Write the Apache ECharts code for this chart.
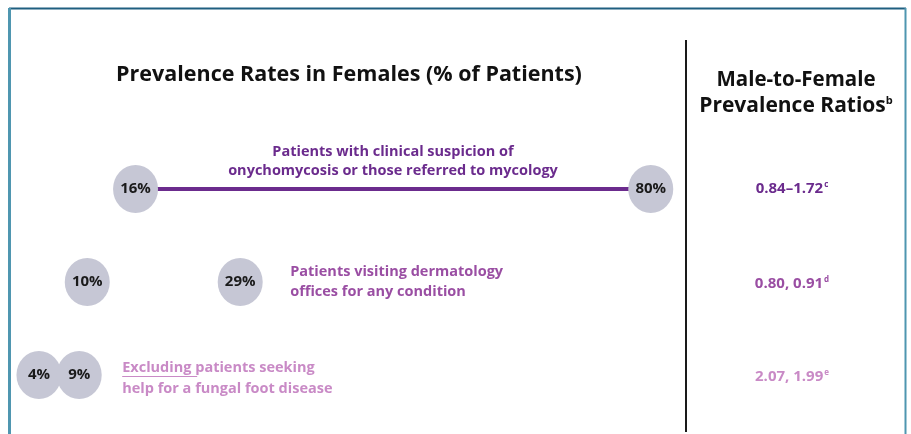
<!DOCTYPE html>
<html>
<head>
<meta charset="utf-8">
<script src="https://cdn.jsdelivr.net/npm/echarts@6/dist/echarts.min.js"></script>
<style>
html,body{margin:0;padding:0;background:#fff;}
#chart{width:911px;height:434px;}
</style>
</head>
<body>
<div id="chart"></div>
<script>
// ---- data ----
var rows = ['r1', 'r2', 'r3'];
var rowLabels = [
  'Patients with clinical suspicion of\nonychomycosis or those referred to mycology',
  'Patients visiting dermatology\noffices for any condition',
  'Excluding patients seeking\nhelp for a fungal foot disease'
];
var lowValues = [16, 10, 4];
var highValues = [80, 29, 9];
var ratioMain = ['0.84\u20131.72', '0.80, 0.91', '2.07, 1.99'];
var ratioNote = ['c', 'd', 'e'];
var rowColors = ['#6b2b8d', '#9a4ea3', '#c98ac6'];

var FONT = '"Open Sans", Lato, sans-serif';

var points = [];
rows.forEach(function (r, i) {
  points.push([lowValues[i], r]);
  points.push([highValues[i], r]);
});

var chart = echarts.init(document.getElementById('chart'), null, {renderer: 'canvas'});

var option = {
  backgroundColor: '#ffffff',
  animation: false,
  grid: {left: 6.75, right: 220, top: 142.5, height: 279},
  xAxis: {type: 'value', min: 0, max: 85, show: false},
  yAxis: {type: 'category', data: rows, inverse: true, show: false},
  series: [
    {
      type: 'line',
      data: [[lowValues[0], rows[0]], [highValues[0], rows[0]]],
      symbol: 'none',
      lineStyle: {color: rowColors[0], width: 4},
      z: 1
    },
    {
      type: 'scatter',
      data: points,
      symbol: 'circle',
      symbolSize: [45, 48],
      itemStyle: {color: '#c6c7d5', opacity: 1},
      label: {
        show: true,
        position: 'inside',
        formatter: function (p) { return p.value[0] + '%'; },
        color: '#1a1a1a',
        fontFamily: FONT,
        fontWeight: 'bold',
        fontSize: 15
      },
      z: 3
    }
  ],
  graphic: []
};
chart.setOption(option);

function px(x, r) { return chart.convertToPixel({gridIndex: 0}, [x, r]); }

var g = [];
// frame
g.push({type: 'line', shape: {x1: 9, y1: 8.5, x2: 906, y2: 8.5}, style: {stroke: '#1f5f80', lineWidth: 2}});
g.push({type: 'line', shape: {x1: 9.5, y1: 8, x2: 9.5, y2: 434}, style: {stroke: '#4f96b0', lineWidth: 3}});
g.push({type: 'line', shape: {x1: 905.5, y1: 8, x2: 905.5, y2: 434}, style: {stroke: '#4f96b0', lineWidth: 2}});
// divider
g.push({type: 'line', shape: {x1: 686, y1: 40, x2: 686, y2: 432}, style: {stroke: '#1a1a1a', lineWidth: 2}});
// titles
g.push({type: 'text', x: 349, y: 75, style: {text: 'Prevalence Rates in Females (% of Patients)', font: 'bold 21.5px ' + FONT, fill: '#111', textAlign: 'center', textVerticalAlign: 'middle'}});
g.push({type: 'text', x: 796, y: 80, style: {text: 'Male-to-Female', font: 'bold 20.5px ' + FONT, fill: '#111', textAlign: 'center', textVerticalAlign: 'middle'}});
g.push({type: 'text', x: 796, y: 106, style: {
  text: '{m|Prevalence Ratios}{s|b}', textAlign: 'center', textVerticalAlign: 'middle',
  rich: {m: {font: 'bold 21px ' + FONT, fill: '#111'}, s: {font: 'bold 11px ' + FONT, fill: '#111', verticalAlign: 'top', padding: [0, 0, 10, 0]}}
}});

// row labels
var p1 = px((lowValues[0] + highValues[0]) / 2, rows[0]);
g.push({type: 'text', x: 393, y: p1[1] - 28, style: {text: rowLabels[0], font: 'bold 14.5px ' + FONT, fill: rowColors[0], textAlign: 'center', textVerticalAlign: 'middle', lineHeight: 19}});
var p2 = px(highValues[1], rows[1]);
g.push({type: 'text', x: p2[0] + 50, y: p2[1], style: {text: rowLabels[1], font: 'bold 14.5px ' + FONT, fill: rowColors[1], textAlign: 'left', textVerticalAlign: 'middle', lineHeight: 20}});
var p3 = px(highValues[2], rows[2]);
g.push({type: 'text', x: p3[0] + 43, y: p3[1] + 3, style: {
  text: 'Excluding patients seeking\nhelp for a fungal foot disease', font: 'bold 14.5px ' + FONT, fill: rowColors[2], textAlign: 'left', textVerticalAlign: 'middle', lineHeight: 21
}});
// underline for "Excluding"
g.push({type: 'line', shape: {x1: p3[0] + 43, y1: p3[1] + 1.5, x2: p3[0] + 118, y2: p3[1] + 1.5}, style: {stroke: rowColors[2], lineWidth: 1}});

// ratios
rows.forEach(function (r, i) {
  var p = px(0, r);
  g.push({type: 'text', x: 792, y: p[1] + (i === 0 ? 0 : 2), style: {
    text: '{m|' + ratioMain[i] + '}{s|' + ratioNote[i] + '}', textAlign: 'center', textVerticalAlign: 'middle',
    rich: {m: {font: 'bold 15px ' + FONT, fill: rowColors[i]}, s: {font: 'bold 8px ' + FONT, fill: rowColors[i], verticalAlign: 'top', padding: [0, 0, 8, 1]}}
  }});
});

chart.setOption({graphic: g});
</script>
</body>
</html>
